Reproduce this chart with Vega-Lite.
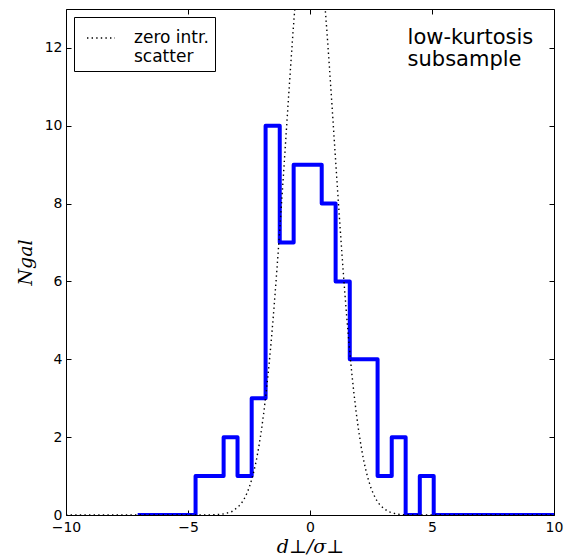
{
  "$schema": "https://vega.github.io/schema/vega-lite/v6.json",
  "width": 488,
  "height": 506,
  "autosize": "none",
  "padding": {"left": 66, "top": 9, "right": 13, "bottom": 44},
  "background": "white",
  "config": {
    "font": "DejaVu Sans",
    "view": {"stroke": "black", "strokeWidth": 1},
    "axis": {
      "domain": false,
      "grid": false,
      "tickColor": "black",
      "tickWidth": 1,
      "tickSize": -5,
      "labelFont": "DejaVu Sans",
      "labelFontSize": 14,
      "labelColor": "black",
      "labelFlush": false,
      "labelOverlap": false,
      "titleFont": "DejaVu Serif",
      "titleFontStyle": "italic",
      "titleFontWeight": "normal",
      "titleFontSize": 19,
      "titleColor": "black"
    }
  },
  "datasets": {
    "hist": [
      {"edge": -6.98, "count": 0},
      {"edge": -6.41, "count": 0},
      {"edge": -5.84, "count": 0},
      {"edge": -5.26, "count": 0},
      {"edge": -4.69, "count": 1},
      {"edge": -4.11, "count": 1},
      {"edge": -3.54, "count": 2},
      {"edge": -2.97, "count": 1},
      {"edge": -2.39, "count": 3},
      {"edge": -1.82, "count": 10},
      {"edge": -1.24, "count": 7},
      {"edge": -0.67, "count": 9},
      {"edge": -0.10, "count": 9},
      {"edge": 0.48, "count": 8},
      {"edge": 1.05, "count": 6},
      {"edge": 1.63, "count": 4},
      {"edge": 2.20, "count": 4},
      {"edge": 2.77, "count": 1},
      {"edge": 3.35, "count": 2},
      {"edge": 3.92, "count": 0},
      {"edge": 4.50, "count": 1},
      {"edge": 5.07, "count": 0},
      {"edge": 10.0, "count": 0}
    ],
    "model": [
      {"x": -10.0, "n": 0, "curve": "zero intr. scatter"},
      {"x": -5.0, "n": 0, "curve": "zero intr. scatter"},
      {"x": -4.5, "n": 0.0006, "curve": "zero intr. scatter"},
      {"x": -4.0, "n": 0.005, "curve": "zero intr. scatter"},
      {"x": -3.8, "n": 0.01, "curve": "zero intr. scatter"},
      {"x": -3.6, "n": 0.02, "curve": "zero intr. scatter"},
      {"x": -3.4, "n": 0.05, "curve": "zero intr. scatter"},
      {"x": -3.2, "n": 0.09, "curve": "zero intr. scatter"},
      {"x": -3.0, "n": 0.18, "curve": "zero intr. scatter"},
      {"x": -2.9, "n": 0.24, "curve": "zero intr. scatter"},
      {"x": -2.8, "n": 0.31, "curve": "zero intr. scatter"},
      {"x": -2.7, "n": 0.41, "curve": "zero intr. scatter"},
      {"x": -2.6, "n": 0.54, "curve": "zero intr. scatter"},
      {"x": -2.5, "n": 0.69, "curve": "zero intr. scatter"},
      {"x": -2.4, "n": 0.89, "curve": "zero intr. scatter"},
      {"x": -2.3, "n": 1.12, "curve": "zero intr. scatter"},
      {"x": -2.2, "n": 1.40, "curve": "zero intr. scatter"},
      {"x": -2.1, "n": 1.74, "curve": "zero intr. scatter"},
      {"x": -2.0, "n": 2.14, "curve": "zero intr. scatter"},
      {"x": -1.9, "n": 2.60, "curve": "zero intr. scatter"},
      {"x": -1.8, "n": 3.13, "curve": "zero intr. scatter"},
      {"x": -1.7, "n": 3.72, "curve": "zero intr. scatter"},
      {"x": -1.6, "n": 4.39, "curve": "zero intr. scatter"},
      {"x": -1.5, "n": 5.13, "curve": "zero intr. scatter"},
      {"x": -1.4, "n": 5.93, "curve": "zero intr. scatter"},
      {"x": -1.3, "n": 6.79, "curve": "zero intr. scatter"},
      {"x": -1.2, "n": 7.69, "curve": "zero intr. scatter"},
      {"x": -1.1, "n": 8.63, "curve": "zero intr. scatter"},
      {"x": -1.0, "n": 9.58, "curve": "zero intr. scatter"},
      {"x": -0.9, "n": 10.54, "curve": "zero intr. scatter"},
      {"x": -0.8, "n": 11.47, "curve": "zero intr. scatter"},
      {"x": -0.7, "n": 12.37, "curve": "zero intr. scatter"},
      {"x": -0.6, "n": 13.20, "curve": "zero intr. scatter"},
      {"x": -0.5, "n": 13.94, "curve": "zero intr. scatter"},
      {"x": -0.4, "n": 14.59, "curve": "zero intr. scatter"},
      {"x": -0.3, "n": 15.10, "curve": "zero intr. scatter"},
      {"x": -0.2, "n": 15.49, "curve": "zero intr. scatter"},
      {"x": -0.1, "n": 15.72, "curve": "zero intr. scatter"},
      {"x": 0.0, "n": 15.80, "curve": "zero intr. scatter"},
      {"x": 0.1, "n": 15.72, "curve": "zero intr. scatter"},
      {"x": 0.2, "n": 15.49, "curve": "zero intr. scatter"},
      {"x": 0.3, "n": 15.10, "curve": "zero intr. scatter"},
      {"x": 0.4, "n": 14.59, "curve": "zero intr. scatter"},
      {"x": 0.5, "n": 13.94, "curve": "zero intr. scatter"},
      {"x": 0.6, "n": 13.20, "curve": "zero intr. scatter"},
      {"x": 0.7, "n": 12.37, "curve": "zero intr. scatter"},
      {"x": 0.8, "n": 11.47, "curve": "zero intr. scatter"},
      {"x": 0.9, "n": 10.54, "curve": "zero intr. scatter"},
      {"x": 1.0, "n": 9.58, "curve": "zero intr. scatter"},
      {"x": 1.1, "n": 8.63, "curve": "zero intr. scatter"},
      {"x": 1.2, "n": 7.69, "curve": "zero intr. scatter"},
      {"x": 1.3, "n": 6.79, "curve": "zero intr. scatter"},
      {"x": 1.4, "n": 5.93, "curve": "zero intr. scatter"},
      {"x": 1.5, "n": 5.13, "curve": "zero intr. scatter"},
      {"x": 1.6, "n": 4.39, "curve": "zero intr. scatter"},
      {"x": 1.7, "n": 3.72, "curve": "zero intr. scatter"},
      {"x": 1.8, "n": 3.13, "curve": "zero intr. scatter"},
      {"x": 1.9, "n": 2.60, "curve": "zero intr. scatter"},
      {"x": 2.0, "n": 2.14, "curve": "zero intr. scatter"},
      {"x": 2.1, "n": 1.74, "curve": "zero intr. scatter"},
      {"x": 2.2, "n": 1.40, "curve": "zero intr. scatter"},
      {"x": 2.3, "n": 1.12, "curve": "zero intr. scatter"},
      {"x": 2.4, "n": 0.89, "curve": "zero intr. scatter"},
      {"x": 2.5, "n": 0.69, "curve": "zero intr. scatter"},
      {"x": 2.6, "n": 0.54, "curve": "zero intr. scatter"},
      {"x": 2.7, "n": 0.41, "curve": "zero intr. scatter"},
      {"x": 2.8, "n": 0.31, "curve": "zero intr. scatter"},
      {"x": 2.9, "n": 0.24, "curve": "zero intr. scatter"},
      {"x": 3.0, "n": 0.18, "curve": "zero intr. scatter"},
      {"x": 3.2, "n": 0.09, "curve": "zero intr. scatter"},
      {"x": 3.4, "n": 0.05, "curve": "zero intr. scatter"},
      {"x": 3.6, "n": 0.02, "curve": "zero intr. scatter"},
      {"x": 3.8, "n": 0.01, "curve": "zero intr. scatter"},
      {"x": 4.0, "n": 0.005, "curve": "zero intr. scatter"},
      {"x": 4.5, "n": 0.0006, "curve": "zero intr. scatter"},
      {"x": 5.0, "n": 0, "curve": "zero intr. scatter"},
      {"x": 10.0, "n": 0, "curve": "zero intr. scatter"}
    ]
  },
  "layer": [
    {
      "data": {"name": "hist"},
      "mark": {
        "type": "line",
        "interpolate": "step-after",
        "color": "#0000ff",
        "strokeWidth": 4,
        "strokeJoin": "round",
        "strokeCap": "square",
        "clip": true
      },
      "encoding": {
        "x": {
          "field": "edge",
          "type": "quantitative",
          "scale": {"domain": [-10, 10], "nice": false, "zero": false},
          "axis": {
            "orient": "bottom",
            "values": [-10, -5, 0, 5, 10],
            "labelPadding": 10,
            "title": "d⊥/σ⊥",
            "titlePadding": 3
          }
        },
        "y": {
          "field": "count",
          "type": "quantitative",
          "scale": {"domain": [0, 13], "nice": false},
          "axis": {
            "orient": "left",
            "values": [0, 2, 4, 6, 8, 10, 12],
            "labelPadding": 9,
            "title": "Ngal",
            "titlePadding": 9
          }
        }
      }
    },
    {
      "data": {"name": "model"},
      "mark": {"type": "line", "color": "black", "strokeWidth": 1.4, "clip": true},
      "encoding": {
        "x": {
          "field": "x",
          "type": "quantitative",
          "axis": {"orient": "top", "values": [-10, -5, 0, 5, 10], "labels": false, "title": null}
        },
        "y": {
          "field": "n",
          "type": "quantitative",
          "axis": {"orient": "right", "values": [0, 2, 4, 6, 8, 10, 12], "labels": false, "title": null}
        },
        "strokeDash": {
          "field": "curve",
          "type": "nominal",
          "scale": {"range": [[1.4, 3.2]]},
          "legend": {
            "title": null,
            "orient": "top-left",
            "offset": 8,
            "padding": 6,
            "fillColor": "white",
            "strokeColor": "black",
            "cornerRadius": 0,
            "symbolType": "stroke",
            "symbolSize": 784,
            "symbolStrokeWidth": 1.4,
            "symbolStrokeColor": "black",
            "symbolOffset": 6,
            "labelOffset": 18,
            "labelFont": "DejaVu Sans",
            "labelFontSize": 17,
            "labelColor": "black",
            "labelLimit": 300,
            "labelExpr": "['zero intr.', 'scatter']"
          }
        }
      }
    },
    {
      "data": {"values": [{"note": "low-kurtosis\nsubsample"}]},
      "mark": {
        "type": "text",
        "align": "left",
        "baseline": "alphabetic",
        "font": "DejaVu Sans",
        "fontSize": 21,
        "lineBreak": "\n",
        "lineHeight": 22,
        "color": "black"
      },
      "encoding": {
        "x": {"datum": 4.0, "type": "quantitative", "axis": null},
        "y": {"datum": 12.11, "type": "quantitative", "axis": null},
        "text": {"field": "note"}
      }
    }
  ],
  "resolve": {"axis": {"x": "independent", "y": "independent"}}
}
